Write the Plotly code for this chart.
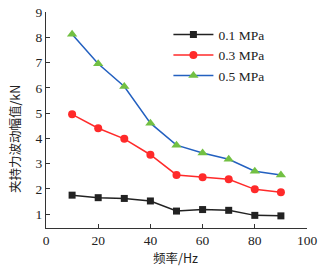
import plotly.graph_objects as go

freq = [10, 20, 30, 40, 50, 60, 70, 80, 90]
p01 = [1.75, 1.65, 1.62, 1.52, 1.12, 1.18, 1.15, 0.95, 0.93]
p03 = [4.95, 4.40, 3.98, 3.35, 2.55, 2.46, 2.38, 1.98, 1.87]
p05 = [8.12, 6.95, 6.05, 4.60, 3.73, 3.42, 3.17, 2.70, 2.55]
names = ["0.1 MPa", "0.3 MPa", "0.5 MPa"]

fig = go.Figure()
fig.add_trace(go.Scatter(x=freq, y=p01, name=names[0], mode="lines+markers",
                         line=dict(color="#222222", width=1.5),
                         marker=dict(symbol="square", size=7, color="#222222")))
fig.add_trace(go.Scatter(x=freq, y=p03, name=names[1], mode="lines+markers",
                         line=dict(color="#ff2a2a", width=1.5),
                         marker=dict(symbol="circle", size=8, color="#ff2a2a")))
fig.add_trace(go.Scatter(x=freq, y=p05, name=names[2], mode="lines+markers",
                         line=dict(color="#2360c0", width=1.5),
                         marker=dict(symbol="triangle-up", size=9, color="#72c043")))

font = "Liberation Serif, Times New Roman, serif"
cjk = "Noto Sans CJK SC, Liberation Serif, sans-serif"
fig.update_layout(
    width=322, height=266,
    margin=dict(l=46, r=15, t=12, b=38),
    paper_bgcolor="white", plot_bgcolor="white",
    font=dict(family=font, size=13.5, color="#222222"),
    showlegend=True,
    legend=dict(x=0.469, y=0.967, xanchor="left", yanchor="top",
                bgcolor="rgba(0,0,0,0)", font=dict(size=13.5, family=font),
                itemwidth=40, tracegroupgap=0),
    xaxis=dict(range=[0, 100], tickvals=[0, 20, 40, 60, 80, 100],
               ticks="inside", ticklen=4, tickcolor="#333333",
               showline=True, linecolor="#333333", linewidth=1,
               showgrid=False, zeroline=False, automargin=False),
    yaxis=dict(range=[0.45, 9], tickvals=[1, 2, 3, 4, 5, 6, 7, 8, 9],
               ticks="inside", ticklen=4, tickcolor="#333333",
               showline=True, linecolor="#333333", linewidth=1,
               showgrid=False, zeroline=False, automargin=False),
    annotations=[
        dict(text="频率/Hz", xref="paper", yref="paper", x=0.498, y=-0.135,
             xanchor="center", yanchor="middle", showarrow=False,
             font=dict(size=12.5, family=cjk, color="#222222")),
        dict(text="夹持力波动幅值/kN", xref="paper", yref="paper", x=-0.12, y=0.41,
             xanchor="center", yanchor="middle", showarrow=False, textangle=-90,
             font=dict(size=12.5, family=cjk, color="#222222")),
    ],
)
fig.write_html("out.html", config={"displayModeBar": False},
               post_script="document.body.style.margin='0';")
